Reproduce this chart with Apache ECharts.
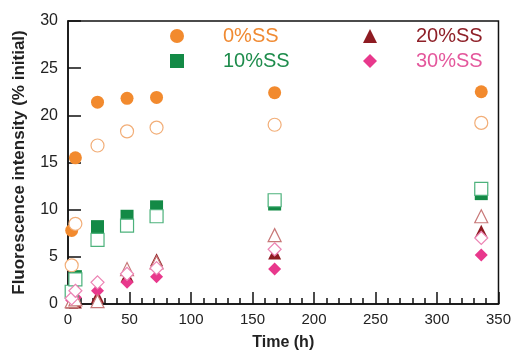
<!DOCTYPE html>
<html>
<head>
<meta charset="utf-8">
<script src="https://cdn.jsdelivr.net/npm/echarts@6/dist/echarts.min.js"></script>
<style>
html,body{margin:0;padding:0;background:#fff;}
#chart{width:514px;height:356px;}
</style>
</head>
<body>
<div id="chart"></div>
<script>
// time points (h)
var times = [3, 6, 24, 48, 72, 168, 336];

// filled symbols = legend series, open symbols = second set
var ss0Filled = [7.8, 15.5, 21.4, 21.8, 21.9, 22.4, 22.5];
var ss0Open = [4.1, 8.5, 16.8, 18.3, 18.7, 19.0, 19.2];
var ss10Filled = [1.2, 2.9, 8.2, 9.3, 10.3, 10.6, 11.7];
var ss10Open = [1.3, 2.6, 6.8, 8.3, 9.3, 11.0, 12.2];
var ss20Filled = [0.2, 0.2, 0.8, 3.0, 4.7, 5.4, 7.7];
var ss20Open = [0.3, 0.5, 0.3, 3.7, 4.4, 7.3, 9.3];
var ss30Filled = [0.4, 0.7, 1.4, 2.3, 2.9, 3.7, 5.2];
var ss30Open = [0.6, 1.4, 2.3, 3.2, 3.8, 5.8, 7.0];

var xTicks = [0, 50, 100, 150, 200, 250, 300, 350];
var yTicks = [0, 5, 10, 15, 20, 25, 30];

function pairs(ys){
    var out = [];
    for(var i=0;i<times.length;i++){
        out.push([times[i], ys[i]]);
    }
    return out;
}

function filledSeries(name, ys, symbol, size, color){
    return {
        name: name,
        type: 'scatter',
        data: pairs(ys),
        symbol: symbol,
        symbolSize: size,
        itemStyle: {color: color, opacity: 1},
        z: 2,
    };
}

function openSeries(name, ys, symbol, size, color){
    return {
        name: name,
        type: 'scatter',
        data: pairs(ys),
        symbol: symbol,
        symbolSize: size,
        itemStyle: {color: '#ffffff', borderColor: color, borderWidth: 1.2, opacity: 1},
        z: 3,
    };
}

var chart = echarts.init(document.getElementById('chart'));

var legendText = {fontFamily: 'Liberation Sans', fontSize: 20, padding: [0, 0, 0, 34]};

var option = {
    backgroundColor: '#ffffff',
    animation: false,
    grid: {
        left: 68,
        right: 15,
        top: 21,
        bottom: 49,
        show: true,
        borderColor: '#111',
        borderWidth: 1.5,
        backgroundColor: 'transparent',
    },
    legend: [
        {
            orient: 'vertical',
            left: 165,
            top: 21,
            itemWidth: 14,
            itemHeight: 14,
            itemGap: 5,
            textStyle: legendText,
            data: [
                {name: '0%SS', textStyle: {color: '#F08A32'}},
                {name: '10%SS', textStyle: {color: '#1E8C4C'}},
            ],
        },
        {
            orient: 'vertical',
            left: 358,
            top: 21,
            itemWidth: 14,
            itemHeight: 14,
            itemGap: 5,
            textStyle: legendText,
            data: [
                {name: '20%SS', textStyle: {color: '#8E2028'}},
                {name: '30%SS', textStyle: {color: '#E4579C'}},
            ],
        },
    ],
    xAxis: {
        type: 'value',
        min: 0,
        max: 350,
        interval: 50,
        name: 'Time (h)',
        nameLocation: 'middle',
        nameGap: 31,
        nameTextStyle: {fontFamily: 'Liberation Sans', fontSize: 16, fontWeight: 'bold', color: '#222'},
        axisLine: {lineStyle: {color: '#111', width: 1.5}},
        axisTick: {inside: true, length: 12, lineStyle: {color: '#111', width: 1.5}},
        minorTick: {show: true, splitNumber: 5, length: 6, lineStyle: {color: '#111', width: 1.5}},
        axisLabel: {
            fontFamily: 'Liberation Sans', fontSize: 15, color: '#222', margin: 8,
            formatter: function(v){ return xTicks.indexOf(v) >= 0 ? String(v) : ''; },
        },
        splitLine: {show: false},
    },
    yAxis: {
        type: 'value',
        min: 0,
        max: 30,
        interval: 5,
        name: 'Fluorescence intensity (% initial)',
        nameLocation: 'middle',
        nameGap: 40,
        nameTextStyle: {fontFamily: 'Liberation Sans', fontSize: 17, fontWeight: 'bold', color: '#222'},
        axisLine: {lineStyle: {color: '#111', width: 1.5}},
        axisTick: {inside: true, length: 13, lineStyle: {color: '#111', width: 1.5}},
        axisLabel: {
            fontFamily: 'Liberation Sans', fontSize: 16, color: '#222', margin: 10,
            formatter: function(v){ return yTicks.indexOf(v) >= 0 ? String(v) : ''; },
        },
        splitLine: {show: false},
    },
    series: [
        filledSeries('0%SS', ss0Filled, 'circle', 13, '#F28A2E'),
        filledSeries('10%SS', ss10Filled, 'rect', 13, '#138A46'),
        filledSeries('20%SS', ss20Filled, 'triangle', 13, '#8E1B22'),
        filledSeries('30%SS', ss30Filled, 'diamond', 13, '#E8388C'),
        openSeries('0%SS open', ss0Open, 'circle', 13, '#F2AE78'),
        openSeries('10%SS open', ss10Open, 'rect', 13, '#4DB27C'),
        openSeries('20%SS open', ss20Open, 'triangle', 13, '#C87878'),
        openSeries('30%SS open', ss30Open, 'diamond', 13, '#EC84B4'),
    ],
};

chart.setOption(option);
</script>
</body>
</html>
